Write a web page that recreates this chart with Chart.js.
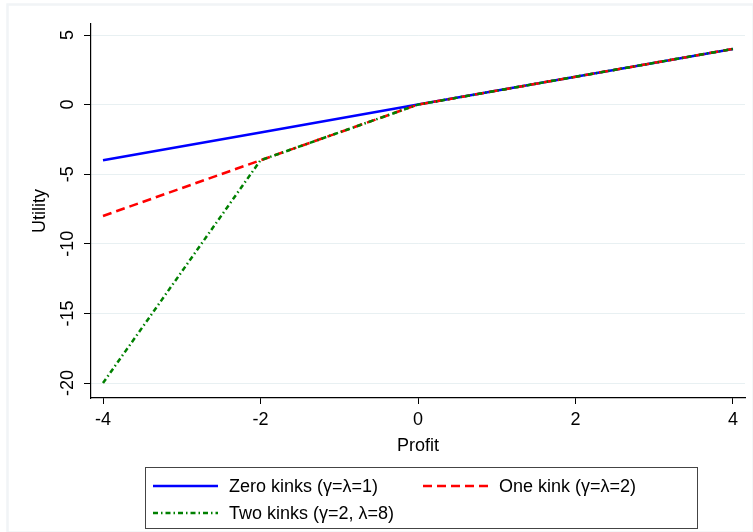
<!DOCTYPE html>
<html>
<head>
<meta charset="utf-8">
<script src="https://cdn.jsdelivr.net/npm/chart.js@4"></script>
<style>
  body { margin: 0; background: #fff; }
  #wrap { width: 753px; height: 532px; }
</style>
</head>
<body>
<div id="wrap"><canvas id="chart"></canvas></div>
<script>
// data
const profit = [-4, -2, 0, 4];
const zeroKinks = [-4, -2, 0, 4];
const oneKink = [-8, -4, 0, 4];
const twoKinks = [-20, -4, 0, 4];
const xTicks = [-4, -2, 0, 2, 4];
const yTicks = [-20, -15, -10, -5, 0, 5];
const labels = ['Zero kinks (\u03b3=\u03bb=1)', 'One kink (\u03b3=\u03bb=2)', 'Two kinks (\u03b3=2, \u03bb=8)'];

const FONT = 'Liberation Sans, Arial, sans-serif';
const FS = 18;

function pts(ys) {
    return profit.map(function (x, i) { return { x: x, y: ys[i] }; });
}

// y tick labels rotated, plus the boxed legend under the plot
const extras = {
    id: 'extras',
    afterDraw: function (chart) {
        const ctx = chart.ctx;
        const y = chart.scales.y;
        ctx.save();
        ctx.fillStyle = '#000';
        ctx.font = FS + 'px ' + FONT;
        ctx.textAlign = 'center';
        ctx.textBaseline = 'middle';
        yTicks.forEach(function (v) {
            const py = y.getPixelForValue(v);
            ctx.save();
            ctx.translate(68, py);
            ctx.rotate(-Math.PI / 2);
            ctx.fillText(String(v), 0, 0);
            ctx.restore();
        });

        // legend box
        ctx.strokeStyle = '#444';
        ctx.lineWidth = 1;
        ctx.strokeRect(145.5, 467.5, 552, 61);
        const items = [
            { x: 153, y: 486, ds: chart.data.datasets[0] },
            { x: 423, y: 486, ds: chart.data.datasets[1] },
            { x: 153, y: 513, ds: chart.data.datasets[2] },
        ];
        items.forEach(function (it) {
            ctx.beginPath();
            ctx.strokeStyle = it.ds.borderColor;
            ctx.lineWidth = it.ds.borderWidth;
            ctx.setLineDash(it.ds.borderDash || []);
            ctx.moveTo(it.x, it.y);
            ctx.lineTo(it.x + 65, it.y);
            ctx.stroke();
            ctx.setLineDash([]);
            ctx.fillStyle = '#000';
            ctx.textAlign = 'left';
            ctx.fillText(it.ds.label, it.x + 76, it.y + 1);
        });

        // faint outer frame of the graph region
        ctx.strokeStyle = '#f1f4f6';
        ctx.strokeRect(7.5, 4.5, 746, 528);
        ctx.restore();
    }
};

new Chart(document.getElementById('chart'), {
    type: 'line',
    data: {
        datasets: [
            {
                label: labels[0],
                data: pts(zeroKinks),
                borderColor: '#0000ff',
                borderWidth: 2.5,
                order: 3,
            },
            {
                label: labels[1],
                data: pts(oneKink),
                borderColor: '#ff0000',
                borderWidth: 2.5,
                borderDash: [9, 5],
                order: 2,
            },
            {
                label: labels[2],
                data: pts(twoKinks),
                borderColor: '#008000',
                borderWidth: 2.5,
                borderDash: [5, 3, 1.5, 3],
                order: 1,
            },
        ],
    },
    options: {
        responsive: true,
        maintainAspectRatio: false,
        animation: false,
        devicePixelRatio: 1,
        layout: { padding: { top: 24, right: 8, left: 0, bottom: 0 } },
        elements: { point: { radius: 0 }, line: { tension: 0, borderCapStyle: 'butt' } },
        plugins: { legend: { display: false }, tooltip: { enabled: false } },
        scales: {
            x: {
                type: 'linear',
                min: -4 - 12 / 78.75,
                max: 4 + 12 / 78.75,
                afterBuildTicks: function (s) { s.ticks = xTicks.map(function (v) { return { value: v }; }); },
                afterFit: function (s) { s.height = 134; },
                grid: { drawOnChartArea: false, tickLength: 6, tickColor: '#000', tickWidth: 1 },
                border: { color: '#000', width: 1.2 },
                ticks: { color: '#000', font: { size: FS, family: FONT }, padding: 5, maxRotation: 0 },
                title: { display: true, text: 'Profit', color: '#000', font: { size: FS, family: FONT }, padding: { top: 0, bottom: 75 } },
            },
            y: {
                type: 'linear',
                min: -20 - 15 / 13.92,
                max: 5 + 11 / 13.92,
                afterBuildTicks: function (s) { s.ticks = yTicks.map(function (v) { return { value: v }; }); },
                afterFit: function (s) { s.width = 91; },
                grid: { color: '#e8f0f2', lineWidth: 1, tickLength: 7, tickColor: '#000', tickWidth: 1 },
                border: { color: '#000', width: 1.2 },
                ticks: { display: false },
                title: { display: true, text: 'Utility', color: '#000', font: { size: FS, family: FONT }, padding: { top: 29, bottom: 0 } },
            },
        },
    },
    plugins: [extras],
});
</script>
</body>
</html>
